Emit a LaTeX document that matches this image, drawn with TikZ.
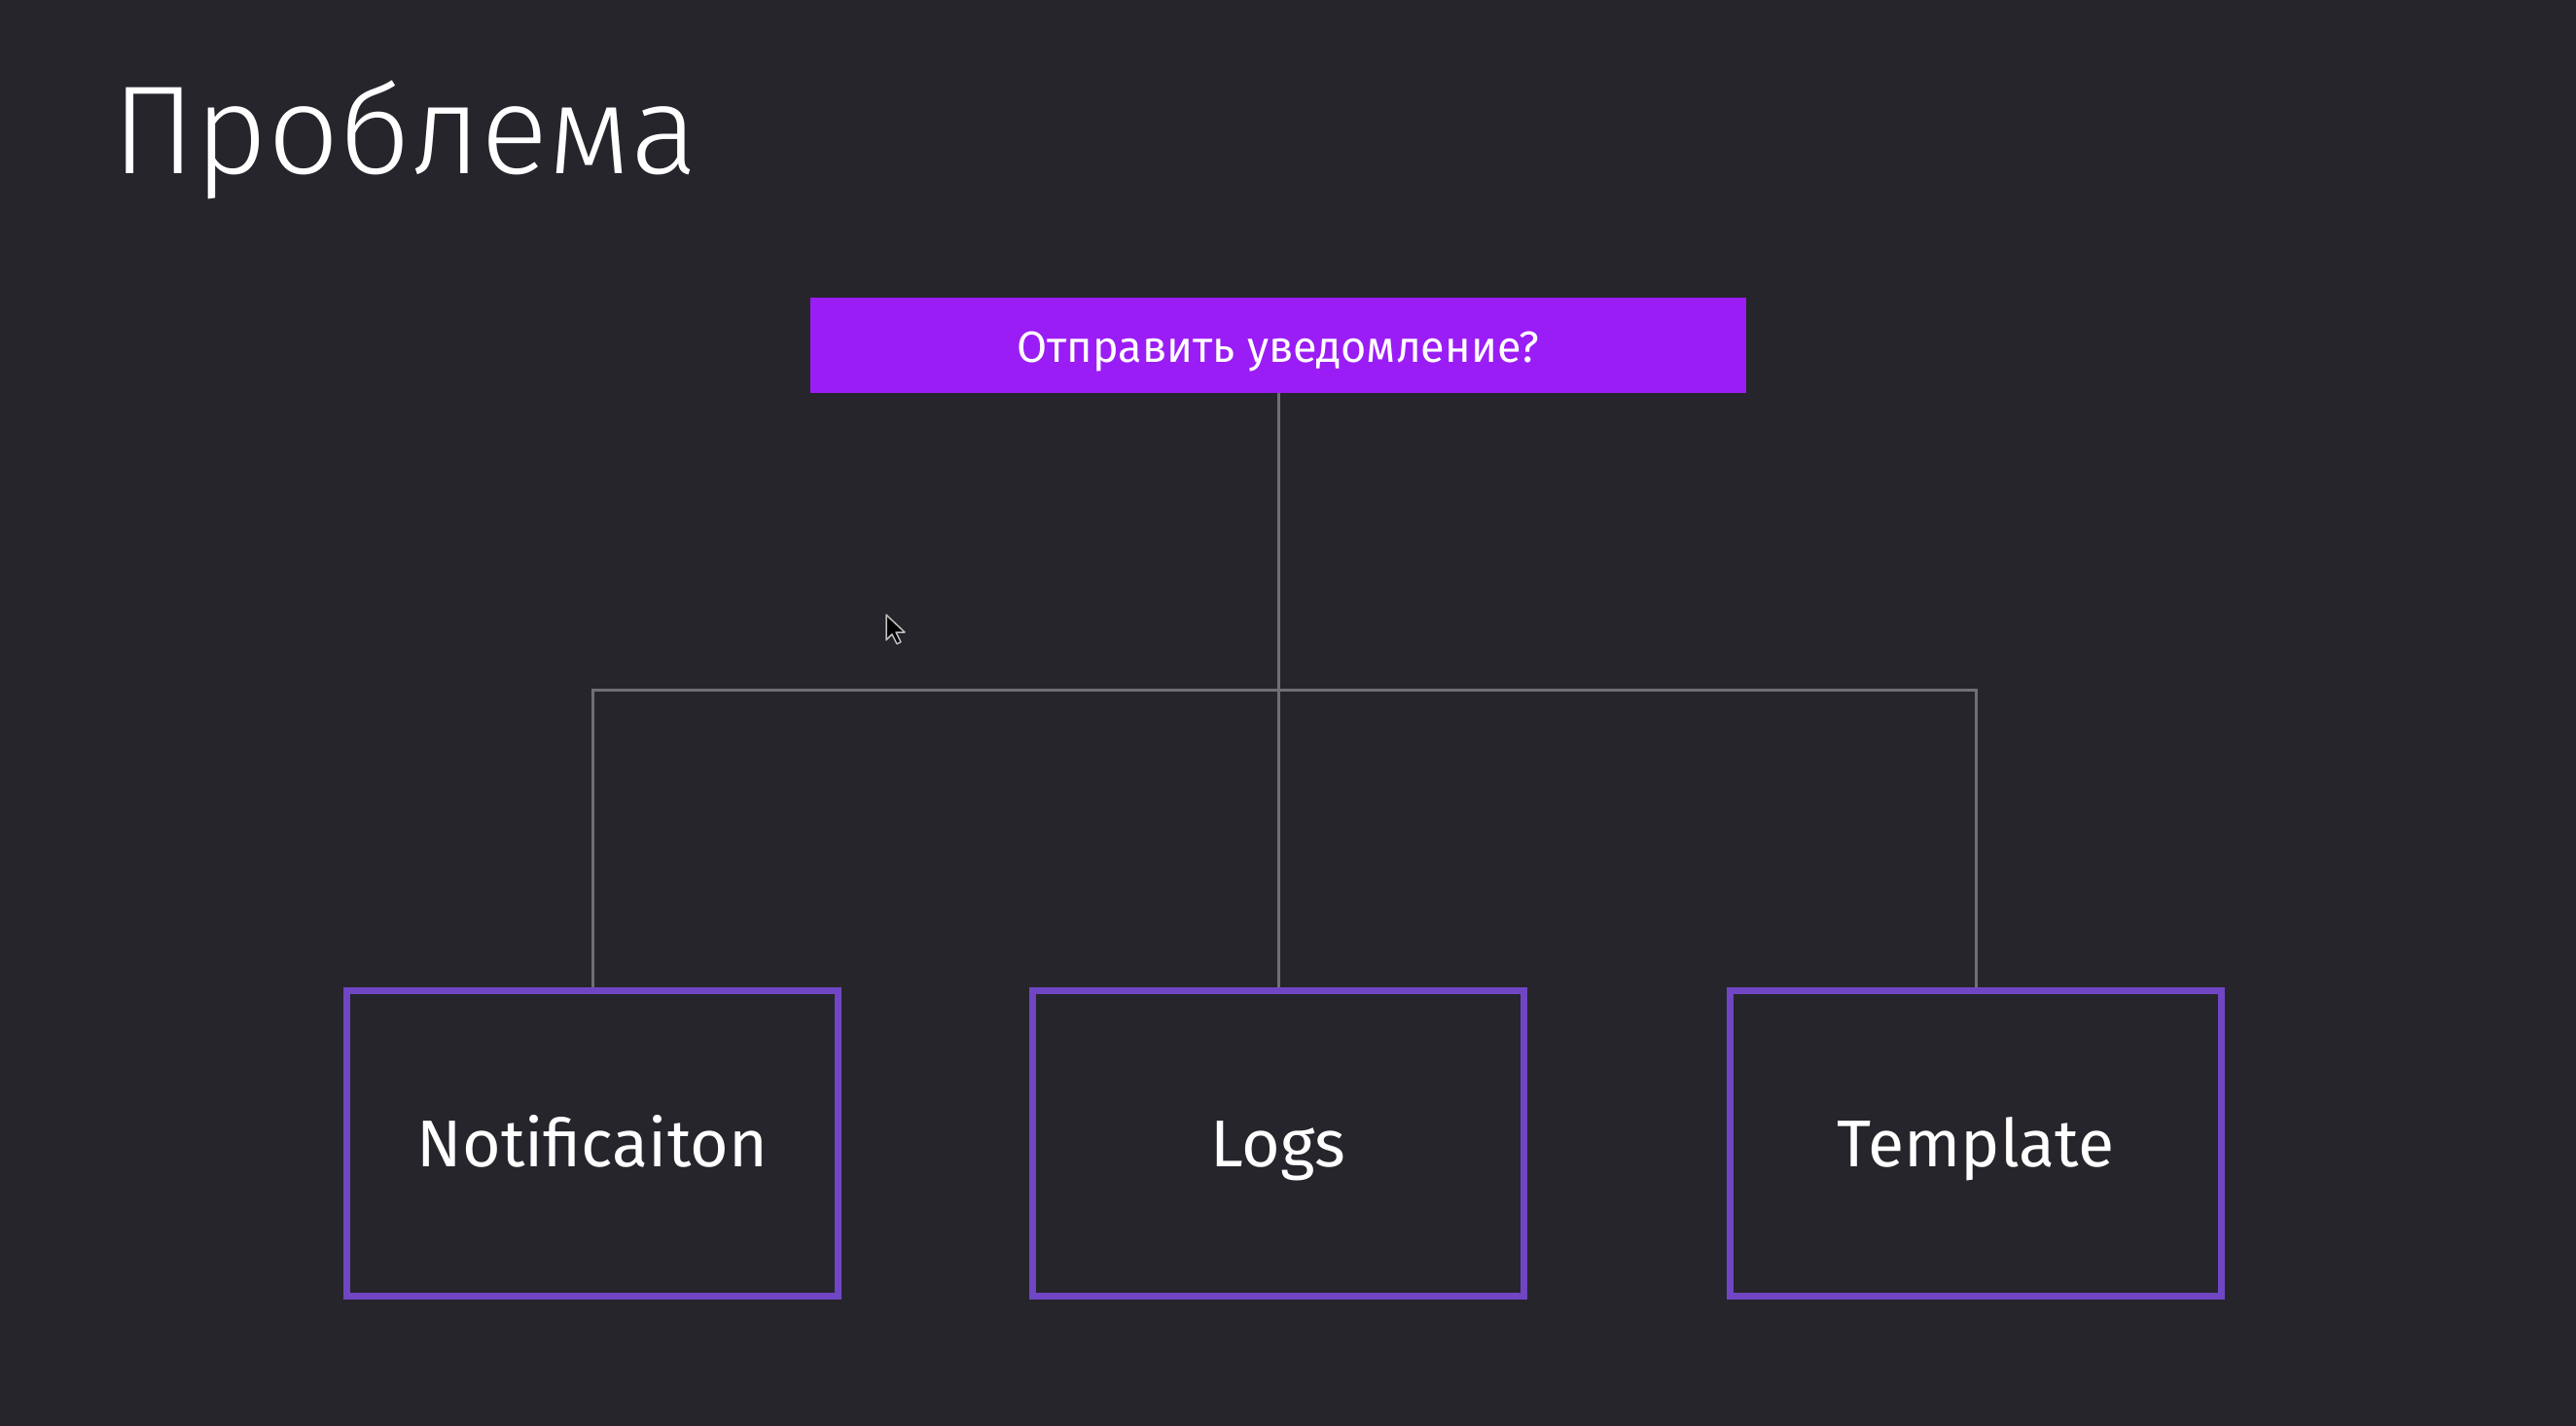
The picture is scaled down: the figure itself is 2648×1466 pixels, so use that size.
\documentclass[tikz,border=0pt]{standalone}
\usepackage{fontspec}
\setmainfont{Fira Sans}
\newfontfamily\firalight{Fira Sans Light}
\definecolor{bg}{RGB}{38,37,44}
\definecolor{topviolet}{RGB}{155,29,245}
\definecolor{boxviolet}{RGB}{112,70,196}
\definecolor{wire}{RGB}{112,112,116}
\begin{document}
\begin{tikzpicture}[x=1pt,y=-1pt,
  wirestyle/.style={draw=wire, line width=3pt},
  itembox/.style={draw=boxviolet, line width=7pt, minimum width=505pt, minimum height=314pt, inner sep=0pt, text height=48pt, text depth=0pt, text=white, font=\fontsize{68}{70}\selectfont},
  questionbox/.style={fill=topviolet, minimum width=962pt, minimum height=98pt, inner sep=0pt, text height=34pt, text depth=0pt, text=white, font=\fontsize{45}{48}\selectfont}]
\fill[bg] (0,0) rectangle (2648,1466);
\useasboundingbox (0,0) rectangle (2648,1466);
\node[anchor=base west, text=white, inner sep=0pt, font=\firalight\fontsize{129}{132}\selectfont] (title) at (115,179) {Проблема};
\node[questionbox] (q) at (1314,355) {Отправить уведомление?};
\node[itembox] (notif) at (609,1175.5) {Notificaiton};
\node[itembox] (logs) at (1314,1175.5) {Logs};
\node[itembox] (tmpl) at (2031,1175.5) {Template};
\coordinate (bus) at (1314,709);
\draw[wirestyle] (q.south) -- (logs.north);
\draw[wirestyle] (notif.north) |- (bus) -| (tmpl.north);
\draw[fill=black, draw=white!75!black, line width=1.5pt, line join=round] (911,632) -- ++(0,26) -- ++(6,-6) -- ++(5,10) -- ++(4,-2) -- ++(-5,-10) -- ++(9,0) -- cycle;
\end{tikzpicture}
\end{document}
